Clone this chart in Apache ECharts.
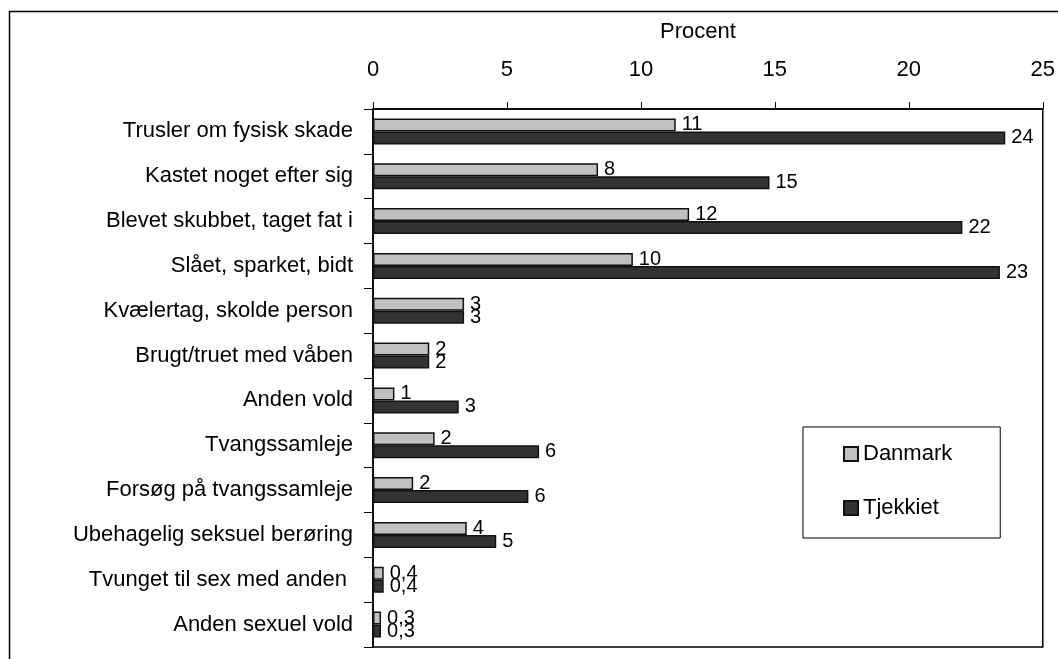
<!DOCTYPE html>
<html>
<head>
<meta charset="utf-8">
<script src="https://cdn.jsdelivr.net/npm/echarts@6/dist/echarts.min.js"></script>
<style>
  html, body { margin: 0; padding: 0; background: #fff; }
  #chart { width: 1058px; height: 659px; }
</style>
</head>
<body>
<div id="chart"></div>
<script>
// kategorier, oppefra og ned
const categories = [
  'Trusler om fysisk skade',
  'Kastet noget efter sig',
  'Blevet skubbet, taget fat i',
  'Slået, sparket, bidt',
  'Kvælertag, skolde person',
  'Brugt/truet med våben',
  'Anden vold',
  'Tvangssamleje',
  'Forsøg på tvangssamleje',
  'Ubehagelig seksuel berøring',
  'Tvunget til sex med anden ',
  'Anden sexuel vold'
]
const danmark = [11.3, 8.4, 11.8, 9.7, 3.4, 2.1, 0.8, 2.3, 1.5, 3.5, 0.4, 0.3]
const tjekkiet = [23.6, 14.8, 22.0, 23.4, 3.4, 2.1, 3.2, 6.2, 5.8, 4.6, 0.4, 0.3]
const danmarkLabels = ['11', '8', '12', '10', '3', '2', '1', '2', '2', '4', '0,4', '0,3']
const tjekkietLabels = ['24', '15', '22', '23', '3', '2', '3', '6', '6', '5', '0,4', '0,3']
const xTicks = { min: 0, max: 25, interval: 5 }

const font = 'Liberation Sans, Arial, sans-serif'
const chart = echarts.init(document.getElementById('chart'))

function barSeries(name, values, labels, color) {
  return {
    name: name,
    type: 'bar',
    data: values,
    barWidth: 13,
    barGap: '0%',
    itemStyle: { color: color, borderColor: '#111', borderWidth: 1.5 },
    label: {
      show: true,
      position: 'right',
      distance: 6,
      color: '#000',
      fontFamily: font,
      fontSize: 20,
      formatter: p => labels[p.dataIndex]
    }
  }
}

chart.setOption({
  animation: false,
  backgroundColor: '#fff',
  textStyle: { fontFamily: font },
  graphic: [{
    type: 'rect',
    shape: { x: 9.5, y: 11.5, width: 1100, height: 700 },
    style: { fill: 'none', stroke: '#000', lineWidth: 1.5 },
    z: -1
  }],
  grid: {
    left: 373, top: 109, right: 15, bottom: 12,
    show: true, borderColor: '#000', borderWidth: 1.5, backgroundColor: '#fff'
  },
  legend: {
    orient: 'vertical',
    left: 803, top: 427,
    padding: [16, 48, 19, 40],
    itemGap: 32,
    itemWidth: 14, itemHeight: 14,
    icon: 'rect',
    borderColor: '#000', borderWidth: 1,
    textStyle: { fontFamily: font, fontSize: 22, color: '#000' },
    data: ['Danmark', 'Tjekkiet']
  },
  xAxis: {
    type: 'value',
    position: 'top',
    min: xTicks.min, max: xTicks.max, interval: xTicks.interval,
    name: 'Procent',
    nameLocation: 'middle',
    nameGap: 66,
    nameTextStyle: { fontFamily: font, fontSize: 22, color: '#000', padding: [0, 20, 0, 0] },
    axisLine: { show: true, lineStyle: { color: '#000', width: 1.5 } },
    axisTick: { show: true, length: 7, lineStyle: { color: '#000' } },
    axisLabel: { margin: 28, fontFamily: font, fontSize: 22, color: '#000' },
    splitLine: { show: false }
  },
  yAxis: {
    type: 'category',
    inverse: true,
    data: categories,
    axisLine: { show: true, lineStyle: { color: '#000', width: 1.5 } },
    axisTick: { show: true, length: 9, lineStyle: { color: '#000' } },
    axisLabel: { margin: 20, fontFamily: font, fontSize: 22, color: '#000' }
  },
  series: [
    barSeries('Danmark', danmark, danmarkLabels, '#c0c0c0'),
    barSeries('Tjekkiet', tjekkiet, tjekkietLabels, '#333333')
  ]
})
</script>
</body>
</html>
